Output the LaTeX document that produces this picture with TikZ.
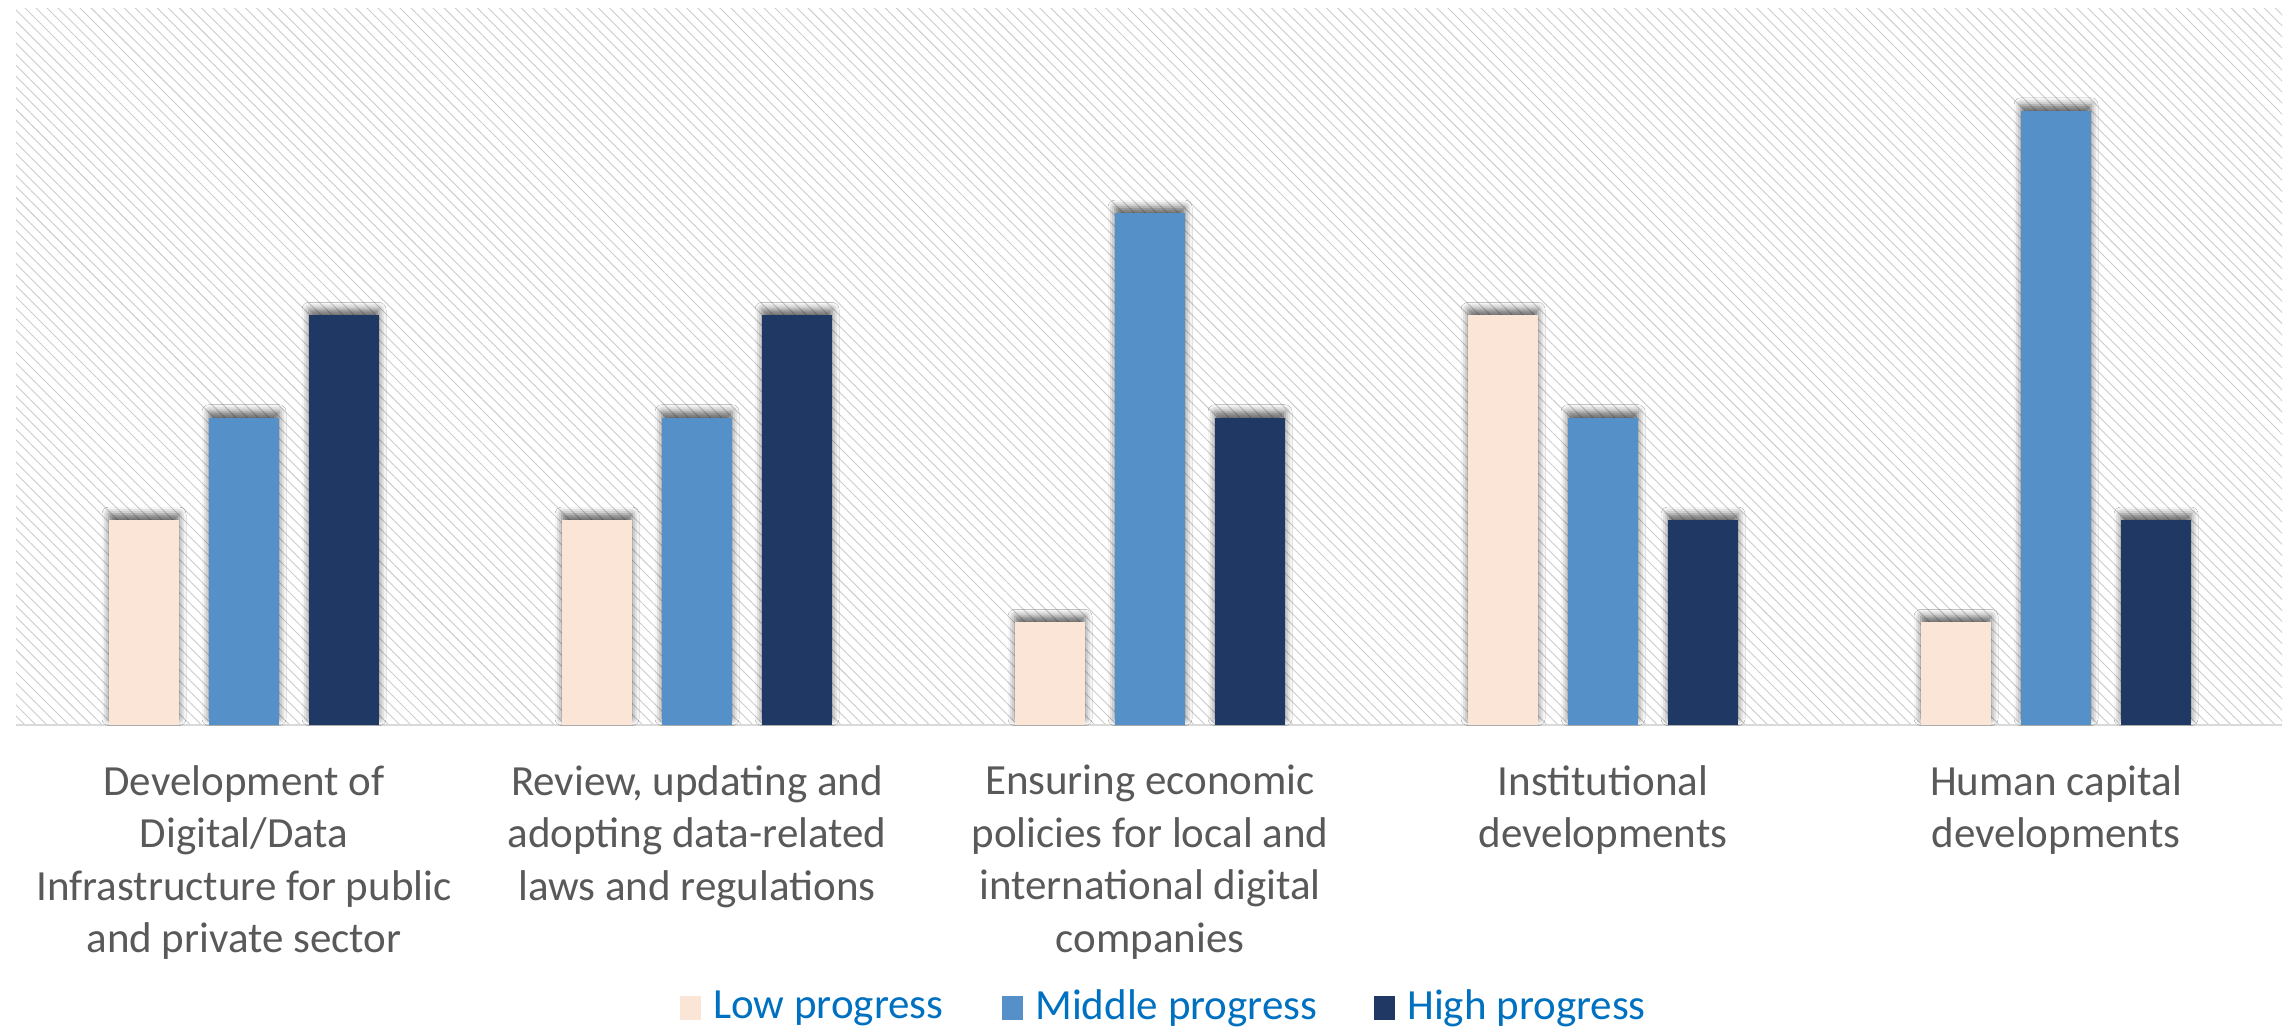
\documentclass[tikz,border=0pt]{standalone}
\usepackage{fontspec}
\setmainfont{Carlito}
\usetikzlibrary{positioning,patterns.meta,shadows.blur}

\definecolor{lowcol}{HTML}{FBE5D6}
\definecolor{midcol}{HTML}{5591C8}
\definecolor{highcol}{HTML}{203864}
\definecolor{axiscol}{HTML}{D9D9D9}
\definecolor{labelcol}{HTML}{595959}
\definecolor{legendcol}{HTML}{0070C0}

\begin{document}
\begin{tikzpicture}[x=0.5pt,y=-0.5pt]

      \tikzset{bar/.style={inner sep=0pt, minimum width=35pt, anchor=south, draw=none,
                 blur shadow={shadow xshift=0pt, shadow yshift=3pt, shadow blur radius=3.5pt, shadow opacity=60}},
               catlabel/.style={inner sep=0pt, anchor=north, align=center, text=labelcol, font=\fontsize{21.5}{26.2}\selectfont},
               legbox/.style={inner sep=0pt, minimum width=10.5pt, minimum height=12pt},
               legtext/.style={inner sep=0pt, text=legendcol, font=\fontsize{21.5}{26.2}\selectfont}}
      \useasboundingbox (0,0) rectangle (2284,1031);
%% Plot area
      	\fill[white] (16,9) rectangle (2282,725);
      	\fill[pattern={Lines[angle=-45, distance=3.9pt, line width=0.45pt]}, pattern color=black!20] (16,9) rectangle (2282,725);
      	\coordinate (axisL) at (16,725);
      	\coordinate (axisR) at (2282,725);
      	\draw[axiscol, line width=1.2pt] (axisL) -- (axisR);
%% Bars (one unit = 102.3)
      	\node[bar, fill=lowcol,  minimum height=2*51.15pt] (low1)  at (144,725) {};
      	\node[bar, fill=midcol,  minimum height=3*51.15pt] (mid1)  at (244,725) {};
      	\node[bar, fill=highcol, minimum height=4*51.15pt] (high1) at (344,725) {};
      	\node[bar, fill=lowcol,  minimum height=2*51.15pt] (low2)  at (597,725) {};
      	\node[bar, fill=midcol,  minimum height=3*51.15pt] (mid2)  at (697,725) {};
      	\node[bar, fill=highcol, minimum height=4*51.15pt] (high2) at (797,725) {};
      	\node[bar, fill=lowcol,  minimum height=1*51.15pt] (low3)  at (1050,725) {};
      	\node[bar, fill=midcol,  minimum height=5*51.15pt] (mid3)  at (1150,725) {};
      	\node[bar, fill=highcol, minimum height=3*51.15pt] (high3) at (1250,725) {};
      	\node[bar, fill=lowcol,  minimum height=4*51.15pt] (low4)  at (1503,725) {};
      	\node[bar, fill=midcol,  minimum height=3*51.15pt] (mid4)  at (1603,725) {};
      	\node[bar, fill=highcol, minimum height=2*51.15pt] (high4) at (1703,725) {};
      	\node[bar, fill=lowcol,  minimum height=1*51.15pt] (low5)  at (1956,725) {};
      	\node[bar, fill=midcol,  minimum height=6*51.15pt] (mid5)  at (2056,725) {};
      	\node[bar, fill=highcol, minimum height=2*51.15pt] (high5) at (2156,725) {};
%% Category labels
      	\node[catlabel] (cat1) at (244,765) {Development of\\Digital/Data\\Infrastructure for public\\and private sector};
      	\node[catlabel] (cat2) at (697,765) {Review, updating and\\adopting data-related\\laws and regulations};
      	\node[catlabel] (cat3) at (1150,765) {Ensuring economic\\policies for local and\\international digital\\companies};
      	\node[catlabel] (cat4) at (1603,765) {Institutional\\developments};
      	\node[catlabel] (cat5) at (2056,765) {Human capital\\developments};
%% Legend
      	\node[legbox, fill=lowcol] (lowkey) at (690,1008) {};
      	\node[legtext, right=6pt of lowkey] (lowtext) {Low progress};
      	\node[legbox, fill=midcol] (midkey) at (1012,1008) {};
      	\node[legtext, right=6pt of midkey] (midtext) {Middle progress};
      	\node[legbox, fill=highcol] (highkey) at (1384,1008) {};
      	\node[legtext, right=6pt of highkey] (hightext) {High progress};

	\end{tikzpicture}
\end{document}
